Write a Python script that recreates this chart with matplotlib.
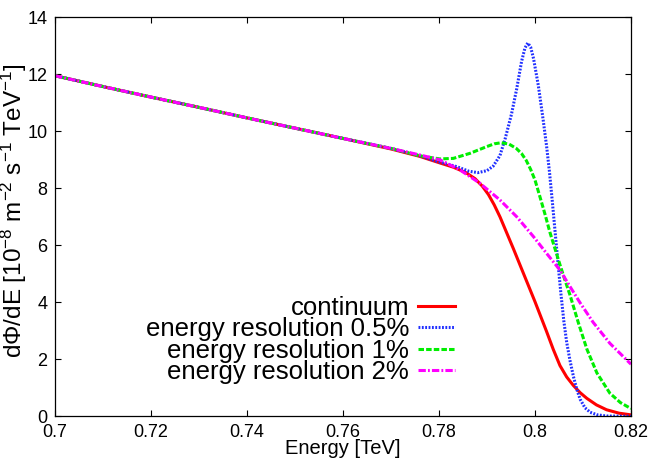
import matplotlib
matplotlib.use("Agg")
import matplotlib.pyplot as plt

plt.rcParams['font.family'] = ['Liberation Sans', 'DejaVu Sans']
plt.rcParams['mathtext.fontset'] = 'custom'
plt.rcParams['mathtext.rm'] = 'Liberation Sans'
plt.rcParams['mathtext.it'] = 'Liberation Sans:italic'
plt.rcParams['mathtext.bf'] = 'Liberation Sans:bold'

# ---- data ----
E_cont = [0.70, 0.71, 0.72, 0.73, 0.74, 0.75, 0.76, 0.77, 0.776, 0.780, 0.783,
          0.7855, 0.7875, 0.7890, 0.7903, 0.7915, 0.7927, 0.794, 0.7955, 0.7969,
          0.7985, 0.800, 0.8012, 0.8024, 0.8038, 0.8052, 0.8066, 0.808, 0.8094,
          0.8108, 0.8128, 0.8149, 0.8175, 0.82]
y_cont = [11.95, 11.57, 11.20, 10.84, 10.47, 10.11, 9.75, 9.38, 9.12, 8.90, 8.74,
          8.56, 8.34, 8.08, 7.78, 7.42, 7.00, 6.48, 5.88, 5.30,
          4.64, 4.02, 3.50, 2.98, 2.35, 1.78, 1.38, 1.08, 0.83,
          0.63, 0.40, 0.23, 0.11, 0.05]

E_res05 = [0.70, 0.71, 0.72, 0.73, 0.74, 0.75, 0.76, 0.77, 0.776, 0.7795, 0.7837,
           0.7862, 0.7881, 0.790, 0.7913, 0.7927, 0.7938, 0.7951, 0.7962, 0.7972,
           0.7979, 0.7985, 0.7991, 0.7997, 0.8007, 0.8017, 0.8024, 0.8030, 0.8036,
           0.8042, 0.8048, 0.8054, 0.8060, 0.8066, 0.8073, 0.8080, 0.8087, 0.8094,
           0.8104, 0.8115, 0.8130, 0.8149, 0.82]
y_res05 = [11.95, 11.57, 11.20, 10.84, 10.47, 10.11, 9.75, 9.40, 9.14, 8.95, 8.76,
           8.60, 8.55, 8.62, 8.78, 9.15, 9.75, 10.60, 11.50, 12.45,
           12.92, 13.10, 12.95, 12.55, 11.60, 10.40, 9.50, 8.60, 7.55,
           6.45, 5.35, 4.30, 3.35, 2.60, 1.95, 1.40, 0.95, 0.60,
           0.30, 0.14, 0.05, 0.01, 0.00]

E_res1 = [0.70, 0.71, 0.72, 0.73, 0.74, 0.75, 0.76, 0.77, 0.776, 0.7802, 0.783,
          0.7865, 0.7899, 0.7915, 0.7930, 0.7946, 0.7961, 0.7972, 0.7982, 0.7991,
          0.800, 0.801, 0.8021, 0.8031, 0.8042, 0.8052, 0.8062, 0.8073, 0.809,
          0.8108, 0.8129, 0.8156, 0.8178, 0.82]
y_res1 = [11.95, 11.57, 11.20, 10.84, 10.47, 10.11, 9.75, 9.40, 9.14, 9.03, 9.05,
          9.23, 9.46, 9.56, 9.60, 9.55, 9.40, 9.22, 8.97, 8.66,
          8.29, 7.72, 7.08, 6.46, 5.86, 5.32, 4.80, 4.25, 3.30,
          2.36, 1.52, 0.81, 0.48, 0.27]

E_res2 = [0.70, 0.71, 0.72, 0.73, 0.74, 0.75, 0.76, 0.77, 0.776, 0.7802, 0.7844,
          0.7885, 0.7927, 0.7962, 0.7997, 0.8024, 0.8052, 0.8073, 0.8094, 0.8121,
          0.8156, 0.8198, 0.82]
y_res2 = [11.95, 11.57, 11.20, 10.84, 10.47, 10.11, 9.75, 9.40, 9.17, 9.00, 8.64,
          8.18, 7.59, 7.00, 6.30, 5.72, 5.13, 4.55, 3.98, 3.30,
          2.56, 1.86, 1.83]

labels = ["continuum", "energy resolution 0.5%", "energy resolution 1%",
          "energy resolution 2%"]
x_ticks = [0.7, 0.72, 0.74, 0.76, 0.78, 0.8, 0.82]
x_ticklabels = ["0.7", "0.72", "0.74", "0.76", "0.78", "0.8", "0.82"]
y_ticks = [0, 2, 4, 6, 8, 10, 12, 14]

fig = plt.figure(figsize=(6.54, 4.58), dpi=100)
ax = fig.add_axes([55/654, 1 - 416.3/458, 576/654, 399/458])

lw = 2.2
ax.plot(E_cont, y_cont, color='#ff0000', lw=lw, label=labels[0])
ax.plot(E_res05, y_res05, color='#2030ff', lw=lw, linestyle=(0, (0.6, 0.5)),
        label=labels[1])
ax.plot(E_res1, y_res1, color='#00ee00', lw=lw, linestyle=(0, (1.8, 0.7)),
        label=labels[2])
ax.plot(E_res2, y_res2, color='#ff00ff', lw=lw, linestyle=(0, (2.4, 0.7, 0.6, 0.7)),
        label=labels[3])

ax.set_xlim(0.7, 0.82)
ax.set_ylim(0, 14)
ax.set_xticks(x_ticks)
ax.set_xticklabels(x_ticklabels)
ax.set_yticks(y_ticks)
ax.tick_params(direction='in', top=True, right=True, length=4, width=0.8,
               labelsize=13, pad=5.5)
for s in ax.spines.values():
    s.set_linewidth(0.9)

ax.set_xlabel("Energy [TeV]", fontsize=14.5, labelpad=-1.5)
ax.set_ylabel(r"d$\Phi$/dE [10$^{-8}$ m$^{-2}$ s$^{-1}$ TeV$^{-1}$]", fontsize=17.5)
ax.yaxis.set_label_coords(-0.045, 0.515)

leg = ax.legend(loc='upper right', bbox_to_anchor=(455/654, 1 - 296/458),
                bbox_transform=fig.transFigure, frameon=False, fontsize=18.5,
                markerfirst=False, handlelength=1.44, handletextpad=0.35,
                labelspacing=-0.1, borderaxespad=0, borderpad=0)

fig.savefig("out.png", dpi=100)
